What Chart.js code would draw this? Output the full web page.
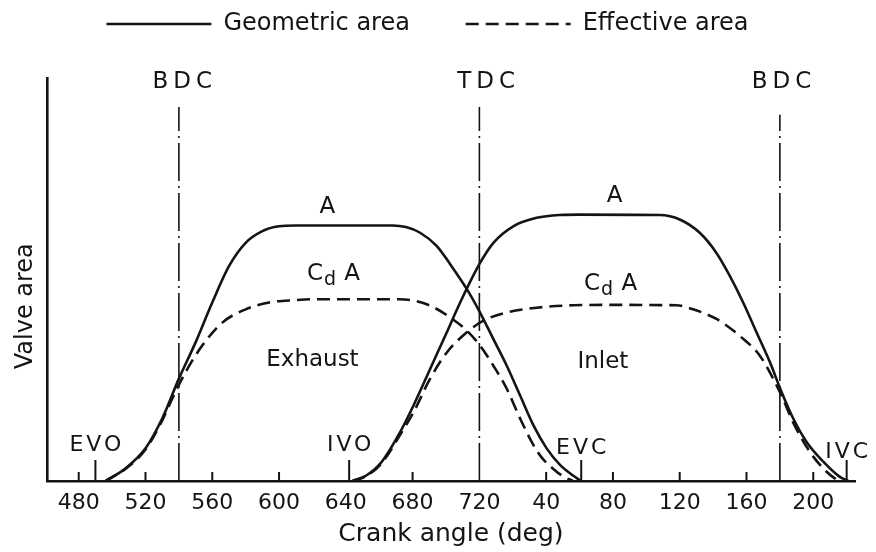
<!DOCTYPE html>
<html lang="en">
<head>
<meta charset="UTF-8">
<title>Valve area against crank angle</title>
<script src="https://cdn.jsdelivr.net/npm/chart.js"></script>
<style>
  html, body { margin: 0; padding: 0; background: #fff; }
  #wrap { width: 876px; height: 552px; }
</style>
</head>
<body>
<div id="wrap"><canvas id="valveChart"></canvas></div>
<script>
// Crank angle runs on past 720 for the next revolution (760 is shown as 40, etc.)
const exhaustGeomAngle = [496, 508, 520, 530, 540, 550, 560, 570, 580, 590, 600, 610, 668, 676, 684.5, 694.5, 702.5, 712.5, 720.4, 728.4, 736.4, 744.4, 752.4, 760.3, 768.3, 776.3, 781];
const exhaustGeomArea  = [0, 3.1, 8.1, 15.5, 25.4, 34.4, 44.3, 53.3, 59.1, 62.0, 63.2, 63.4, 63.4, 63.0, 61.6, 58.3, 53.8, 47.6, 41.8, 35.2, 28.6, 21.2, 13.8, 8.1, 4.0, 1.3, 0];

const exhaustEffAngle = [496, 508, 520, 530, 536, 544, 554, 566, 580, 594, 610, 620, 672, 680, 690.5, 702.5, 712.5, 720.4, 728.4, 736.4, 744.4, 752.4, 758, 764.3, 770, 776];
const exhaustEffArea  = [0, 3.0, 7.8, 15.0, 20.4, 27.0, 33.6, 39.3, 42.6, 44.3, 44.9, 45.1, 45.1, 44.8, 43.5, 40.6, 37.3, 33.6, 28.6, 22.9, 15.5, 8.9, 5.5, 3.0, 1.2, 0];

const inletGeomAngle = [644, 652, 661, 672.6, 680.6, 690.5, 700.5, 708.5, 720.4, 728.4, 740.3, 754.3, 768, 780, 828, 840, 852, 862, 870, 878, 886, 894, 901, 908, 916, 926, 935.7, 941];
const inletGeomArea  = [0, 1.3, 4.5, 12.2, 18.8, 27.8, 36.9, 44.3, 54.1, 59.1, 63.2, 65.3, 66.0, 66.1, 66.0, 64.9, 61.6, 56.6, 50.9, 44.3, 36.9, 29.5, 22.1, 15.5, 9.7, 4.8, 1.1, 0];

const inletEffAngle = [644, 652, 661, 672.6, 680.6, 690.5, 700.5, 712.5, 722.4, 736.4, 754.3, 776, 800, 838, 848, 862, 876, 888, 896, 901, 908, 918, 928, 935];
const inletEffArea  = [0, 1.2, 4.2, 11.5, 17.1, 25.4, 31.9, 36.9, 39.8, 41.8, 43.0, 43.6, 43.7, 43.6, 42.6, 40.2, 36.0, 31.1, 25.4, 21.2, 14.5, 7.2, 2.3, 0];

const tickAngles  = [480, 520, 560, 600, 640, 680, 720, 760, 800, 840, 880, 920];
const minorTicks  = [480, 520, 560, 600, 680, 760, 800, 840, 880, 920];

const eventNames  = ['EVO', 'IVO', 'EVC', 'IVC'];
const eventAngles = [490, 642, 781, 940];

const deadCentreNames  = ['BDC', 'TDC', 'BDC'];
const deadCentreAngles = [540, 720, 900];
const deadCentreTops   = [92.8, 92.8, 90.9];

const ink = '#141414';
const fontFamily = "'DejaVu Sans', 'Liberation Sans', sans-serif";

function toPoints(xs, ys) {
    return xs.map((v, i) => ({ x: v, y: ys[i] }));
}

// text placed in data units (crank angle, valve area)
const labels = [
    { text: 'A', x: 629, y: 68.1 },
    { text: 'A', x: 801, y: 70.6 },
    { text: 'C', sub: 'd', rest: ' A', x: 632, y: 51.4 },
    { text: 'C', sub: 'd', rest: ' A', x: 798, y: 48.9 },
    { text: 'Exhaust', x: 620, y: 29.9 },
    { text: 'Inlet', x: 794, y: 29.4 }
];
const eventLabelY = [8.9, 8.9, 8.1, 7.2];
const deadCentreLabelAngles = [542, 724, 901];

const annotate = {
    id: 'annotate',
    afterDatasetsDraw(chart) {
        const { ctx } = chart;
        const x = chart.scales.x, y = chart.scales.y;
        const base = y.getPixelForValue(0);
        ctx.save();
        ctx.strokeStyle = ink;
        ctx.lineWidth = 2;
        ctx.beginPath();
        minorTicks.forEach(v => {
            const px = x.getPixelForValue(v);
            ctx.moveTo(px, base);
            ctx.lineTo(px, base - 9);
        });
        eventAngles.forEach(v => {
            const px = x.getPixelForValue(v);
            ctx.moveTo(px, base);
            ctx.lineTo(px, base - 21);
        });
        ctx.stroke();

        ctx.fillStyle = ink;
        ctx.textBaseline = 'middle';
        ctx.textAlign = 'center';

        ctx.font = '22px ' + fontFamily;
        ctx.letterSpacing = '3px';
        eventNames.forEach((t, i) => {
            ctx.fillText(t, x.getPixelForValue(eventAngles[i]) + 1.5, y.getPixelForValue(eventLabelY[i]));
        });

        ctx.font = '23px ' + fontFamily;
        ctx.letterSpacing = '5px';
        deadCentreNames.forEach((t, i) => {
            ctx.fillText(t, x.getPixelForValue(deadCentreLabelAngles[i]) + 2.5, y.getPixelForValue(99));
        });

        ctx.letterSpacing = '0px';
        labels.forEach(l => {
            const px = x.getPixelForValue(l.x), py = y.getPixelForValue(l.y);
            if (!l.sub) {
                ctx.font = '23px ' + fontFamily;
                ctx.textAlign = 'center';
                ctx.fillText(l.text, px, py);
                return;
            }
            ctx.textAlign = 'left';
            ctx.font = '23px ' + fontFamily;
            const w1 = ctx.measureText(l.text).width;
            const w3 = ctx.measureText(l.rest).width;
            ctx.font = '19px ' + fontFamily;
            const w2 = ctx.measureText(l.sub).width;
            const left = px - (w1 + w2 + w3) / 2;
            ctx.font = '23px ' + fontFamily;
            ctx.fillText(l.text, left, py);
            ctx.font = '19px ' + fontFamily;
            ctx.fillText(l.sub, left + w1 + 1, py + 6);
            ctx.font = '23px ' + fontFamily;
            ctx.fillText(l.rest, left + w1 + w2 + 2, py);
        });
        ctx.restore();
    }
};

Chart.defaults.font.family = fontFamily;
Chart.defaults.color = ink;

const datasets = [
    { label: 'Geometric area      ', data: toPoints(exhaustGeomAngle, exhaustGeomArea), borderDash: [] },
    { label: 'Effective area', data: toPoints(exhaustEffAngle, exhaustEffArea), borderDash: [13, 7] },
    { label: 'Inlet geometric', data: toPoints(inletGeomAngle, inletGeomArea), borderDash: [] },
    { label: 'Inlet effective', data: toPoints(inletEffAngle, inletEffArea), borderDash: [13, 7] }
].map(d => Object.assign(d, {
    borderColor: ink,
    backgroundColor: ink,
    borderWidth: 2.6,
    pointRadius: 0,
    fill: false,
    cubicInterpolationMode: 'monotone'
}));

deadCentreAngles.forEach((a, i) => {
    datasets.push({
        label: deadCentreNames[i],
        data: [{ x: a, y: 0 }, { x: a, y: deadCentreTops[i] }],
        borderColor: ink,
        borderWidth: 1.6,
        borderDash: [38, 5, 2, 5],
        pointRadius: 0,
        fill: false
    });
});

new Chart(document.getElementById('valveChart'), {
    type: 'line',
    data: { datasets: datasets },
    options: {
        responsive: true,
        maintainAspectRatio: false,
        animation: false,
        layout: { padding: { top: 2, right: 21, left: 0, bottom: 0 } },
        plugins: {
            legend: {
                display: true,
                position: 'top',
                weight: 3000,
                labels: {
                    filter: item => item.datasetIndex < 2,
                    generateLabels: chart => {
                        const items = Chart.defaults.plugins.legend.labels.generateLabels(chart);
                        items.forEach(it => {
                            const ds = chart.data.datasets[it.datasetIndex];
                            it.lineDash = ds.borderDash;
                            it.lineWidth = 2.6;
                            it.strokeStyle = ink;
                            it.pointStyle = 'line';
                        });
                        return items;
                    },
                    usePointStyle: true,
                    pointStyle: 'line',
                    pointStyleWidth: 105,
                    font: { size: 24 },
                    color: ink,
                    padding: 10
                }
            },
            title: { display: true, text: '', font: { size: 10 }, padding: { top: 10, bottom: 10 } },
            tooltip: { enabled: false }
        },
        scales: {
            x: {
                type: 'linear',
                min: 461,
                max: 945,
                grid: { display: false, drawTicks: false },
                border: { display: true, color: ink, width: 2.6 },
                afterBuildTicks: scale => { scale.ticks = tickAngles.map(v => ({ value: v })); },
                afterFit: scale => { scale.height = 71; },
                ticks: {
                    padding: 9,
                    font: { size: 22 },
                    color: ink,
                    maxRotation: 0,
                    autoSkip: false,
                    callback: v => (v > 720 ? v - 720 : v)
                },
                title: {
                    display: true,
                    text: 'Crank angle (deg)',
                    font: { size: 25 },
                    color: ink,
                    padding: { top: 0, bottom: 3 }
                }
            },
            y: {
                min: 0,
                max: 100,
                grid: { display: false, drawTicks: false },
                border: { display: true, color: ink, width: 2.6 },
                ticks: { display: false },
                afterFit: scale => { scale.width = 47; },
                title: {
                    display: true,
                    text: 'Valve area       ',
                    font: { size: 24 },
                    color: ink,
                    padding: { top: 11, bottom: 0 }
                }
            }
        }
    },
    plugins: [annotate]
});
</script>
</body>
</html>
